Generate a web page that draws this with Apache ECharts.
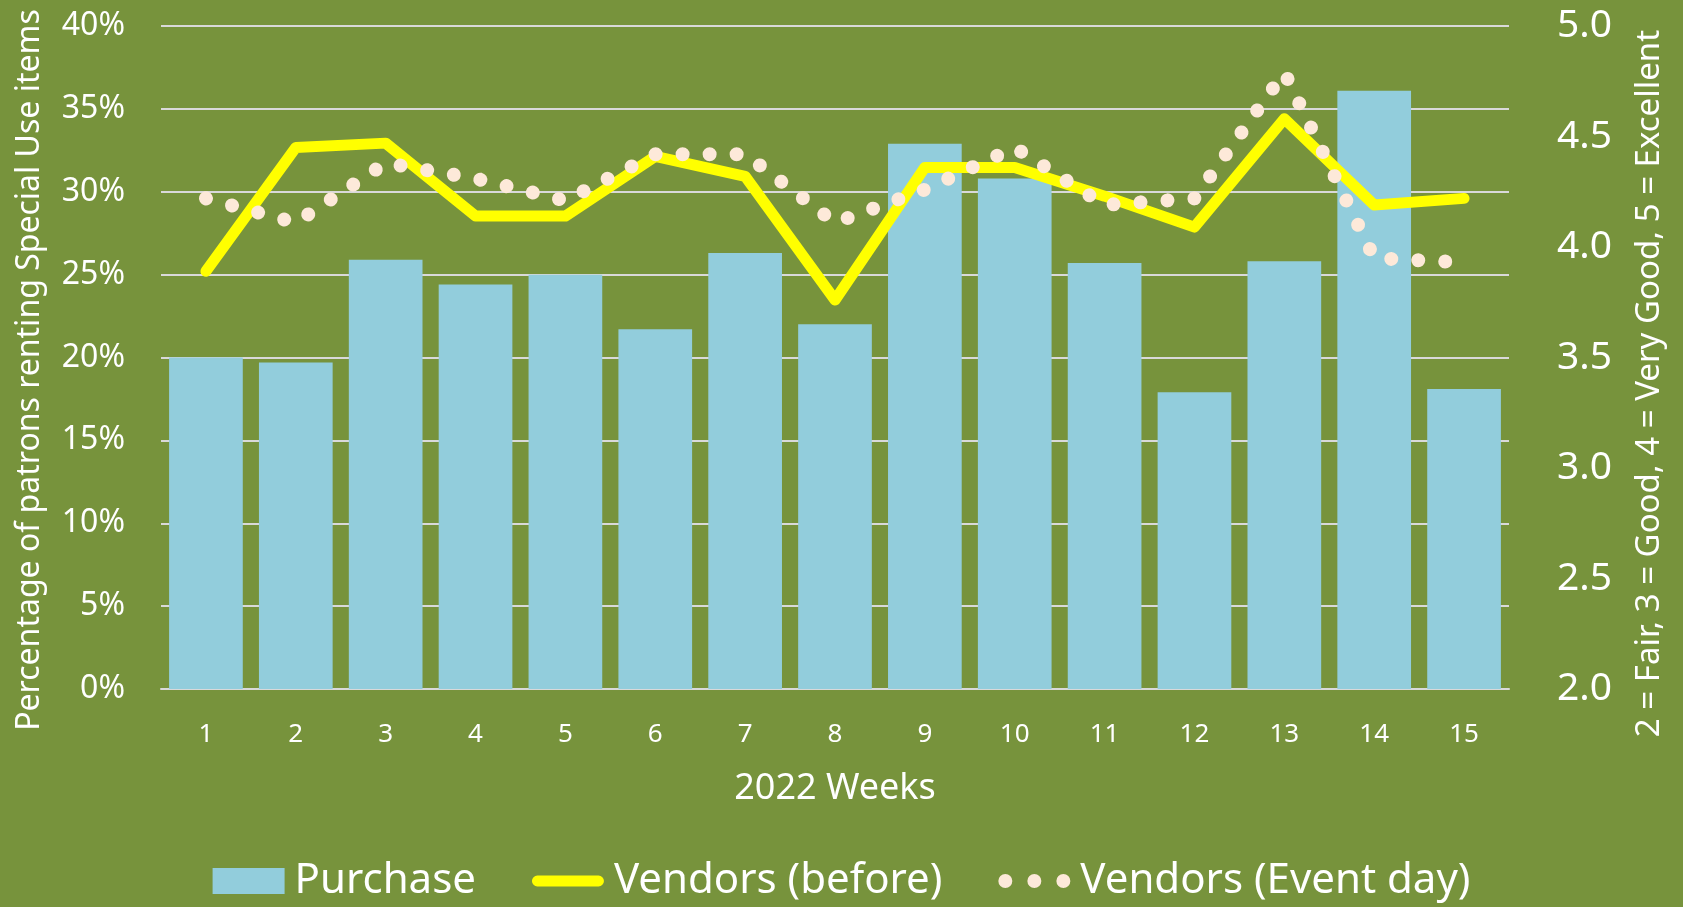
<!DOCTYPE html>
<html>
<head>
<meta charset="utf-8">
<script src="https://cdn.jsdelivr.net/npm/echarts@6/dist/echarts.min.js"></script>
<style>
  html, body { margin: 0; padding: 0; background: #77933C; }
  #chart { width: 1683px; height: 907px; }
</style>
</head>
<body>
<div id="chart"></div>
<script>
// weeks of 2022
var weeks = ['1','2','3','4','5','6','7','8','9','10','11','12','13','14','15'];
// percentage of patrons renting Special Use items (left axis)
var purchase = [20.0, 19.7, 25.9, 24.4, 25.0, 21.7, 26.3, 22.0, 32.9, 30.8, 25.7, 17.9, 25.8, 36.1, 18.1];
// vendor ratings (right axis)
var vendorsBefore = [3.89, 4.45, 4.47, 4.14, 4.14, 4.41, 4.32, 3.76, 4.36, 4.36, 4.23, 4.09, 4.58, 4.19, 4.22];
var vendorsEvent = [4.22, 4.11, 4.38, 4.31, 4.21, 4.42, 4.42, 4.11, 4.26, 4.45, 4.19, 4.22, 4.79, 3.95, 3.93];

var font = 'Noto Sans';
var white = '#FFFFFF';

// legend icons: thick rounded line and three dots
var capsuleIcon = 'path://M6,0 L74,0 A6,6 0 0 1 74,12 L6,12 A6,6 0 0 1 6,0 Z';
var dotsIcon = 'path://M0,6.5 A6.5,6.5 0 1 1 13,6.5 A6.5,6.5 0 1 1 0,6.5 Z' +
	'M27,6.5 A6.5,6.5 0 1 1 40,6.5 A6.5,6.5 0 1 1 27,6.5 Z' +
	'M54,6.5 A6.5,6.5 0 1 1 67,6.5 A6.5,6.5 0 1 1 54,6.5 Z';

var chart = echarts.init(document.getElementById('chart'));
chart.setOption({
	backgroundColor: '#77933C',
	animation: false,
	textStyle: { fontFamily: font },
	grid: { left: 161, right: 174, top: 26, bottom: 218 },
	legend: {
		top: 855,
		left: 'center',
		itemWidth: 72,
		itemHeight: 26,
		itemGap: 56,
		textStyle: { color: white, fontSize: 42, fontFamily: font, padding: [0, 0, 0, 5] },
		data: [
			{ name: 'Purchase', icon: 'rect', itemStyle: { color: '#92CDDC', borderWidth: 0 } },
			{ name: 'Vendors (before)', icon: capsuleIcon, itemStyle: { color: '#FFFF00', borderWidth: 0 } },
			{ name: 'Vendors (Event day)', icon: dotsIcon, itemStyle: { color: '#FDE9D9', borderWidth: 0 } }
		]
	},
	xAxis: {
		type: 'category',
		data: weeks,
		name: '2022 Weeks',
		nameLocation: 'middle',
		nameGap: 82,
		nameTextStyle: { color: white, fontSize: 36 },
		axisLine: { lineStyle: { color: '#D9D9D9', width: 2 } },
		axisTick: { show: false },
		axisLabel: { color: white, fontSize: 26, margin: 33 }
	},
	yAxis: [
		{
			type: 'value',
			min: 0,
			max: 40,
			interval: 5,
			name: 'Percentage of patrons renting Special Use items',
			nameLocation: 'middle',
			nameRotate: 90,
			nameGap: 115,
			nameTextStyle: { color: white, fontSize: 32, padding: [0, 25, 0, 0] },
			axisLine: { show: false },
			axisTick: { show: false },
			axisLabel: { color: white, fontSize: 32, margin: 36, formatter: '{value}%' },
			splitLine: { lineStyle: { color: '#D9D9D9', width: 2 } }
		},
		{
			type: 'value',
			min: 2,
			max: 5,
			interval: 0.5,
			position: 'right',
			name: '2 = Fair, 3 = Good, 4 = Very Good, 5 = Excellent',
			nameLocation: 'middle',
			nameRotate: 90,
			nameGap: 124,
			nameTextStyle: { color: white, fontSize: 33, padding: [0, 52, 0, 0] },
			axisLine: { show: false },
			axisTick: { show: false },
			axisLabel: {
				color: white, fontSize: 39, margin: 48,
				formatter: function (v) { return v.toFixed(1); }
			},
			splitLine: { show: false }
		}
	],
	series: [
		{
			name: 'Purchase',
			type: 'bar',
			data: purchase,
			barCategoryGap: '18%',
			itemStyle: { color: '#92CDDC' }
		},
		{
			name: 'Vendors (before)',
			type: 'line',
			yAxisIndex: 1,
			data: vendorsBefore,
			symbol: 'none',
			lineStyle: { color: '#FFFF00', width: 11, cap: 'round', join: 'round' },
			itemStyle: { color: '#FFFF00' }
		},
		{
			name: 'Vendors (Event day)',
			type: 'line',
			yAxisIndex: 1,
			data: vendorsEvent,
			symbol: 'none',
			lineStyle: { color: '#FDE9D9', width: 14, type: [0.01, 27], cap: 'round' },
			itemStyle: { color: '#FDE9D9' }
		}
	]
});
</script>
</body>
</html>
